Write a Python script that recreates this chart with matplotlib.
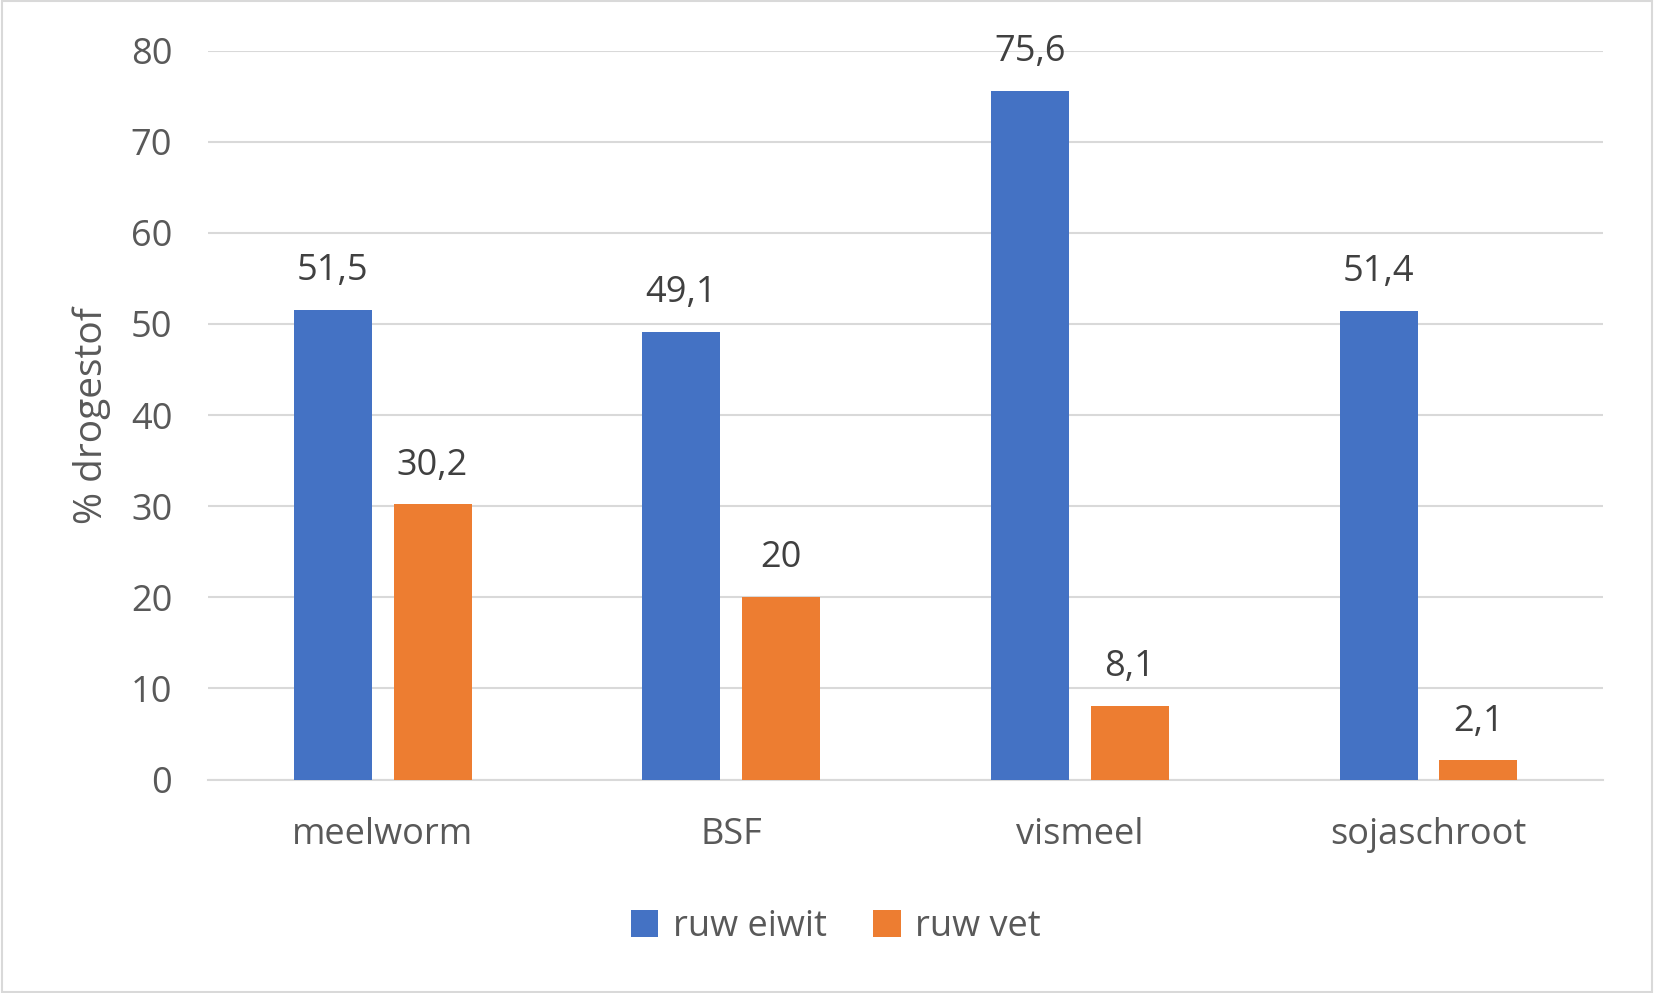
import numpy as np
import matplotlib.pyplot as plt
from matplotlib.patches import Rectangle

categories = ['meelworm', 'BSF', 'vismeel', 'sojaschroot']
eiwit = [51.5, 49.1, 75.6, 51.4]
vet = [30.2, 20, 8.1, 2.1]
eiwit_labels = ['51,5', '49,1', '75,6', '51,4']
vet_labels = ['30,2', '20', '8,1', '2,1']

plt.rcParams['font.family'] = ['Open Sans', 'DejaVu Sans']

fig = plt.figure(figsize=(16.54, 9.93), dpi=100)
ax = fig.add_axes([0.126, 0.215, 0.843, 0.734])

x = np.arange(len(categories))
w = 0.224
off = 0.143
b1 = ax.bar(x - off, eiwit, w, color='#4472C4', label='ruw eiwit', zorder=3)
b2 = ax.bar(x + off, vet, w, color='#ED7D31', label='ruw vet', zorder=3)

for bars, labs in ((b1, eiwit_labels), (b2, vet_labels)):
    for r, t in zip(bars, labs):
        ax.annotate(t, (r.get_x() + r.get_width() / 2, r.get_height()),
                    xytext=(0, 15), textcoords='offset points',
                    ha='center', va='bottom', fontsize=26, color='#404040')

ax.set_ylim(0, 80)
ax.set_xlim(-0.5, 3.5)
ax.set_yticks(range(0, 81, 10))
ax.set_xticks(x)
ax.set_xticklabels(categories)
ax.yaxis.grid(True, color='#D9D9D9', linewidth=1.5, zorder=0)
for s in ['top', 'right', 'left']:
    ax.spines[s].set_visible(False)
ax.spines['bottom'].set_color('#D9D9D9')
ax.spines['bottom'].set_linewidth(1.5)
ax.tick_params(axis='both', length=0, labelsize=26, labelcolor='#595959')
ax.tick_params(axis='y', pad=26)
ax.tick_params(axis='x', pad=27)
ax.set_ylabel('% drogestof', fontsize=28, color='#595959', labelpad=14)

ax.legend(loc='upper center', bbox_to_anchor=(0.45, -0.133), ncol=2, frameon=False,
          fontsize=26, labelcolor='#595959', handlelength=0.75, handleheight=0.75,
          columnspacing=1.3, handletextpad=0.4)

fig.patches.append(Rectangle((0.001, 0.001), 0.998, 0.998, transform=fig.transFigure,
                             fill=False, edgecolor='#D9D9D9', linewidth=1.5))

fig.savefig('out.png', dpi=100)
